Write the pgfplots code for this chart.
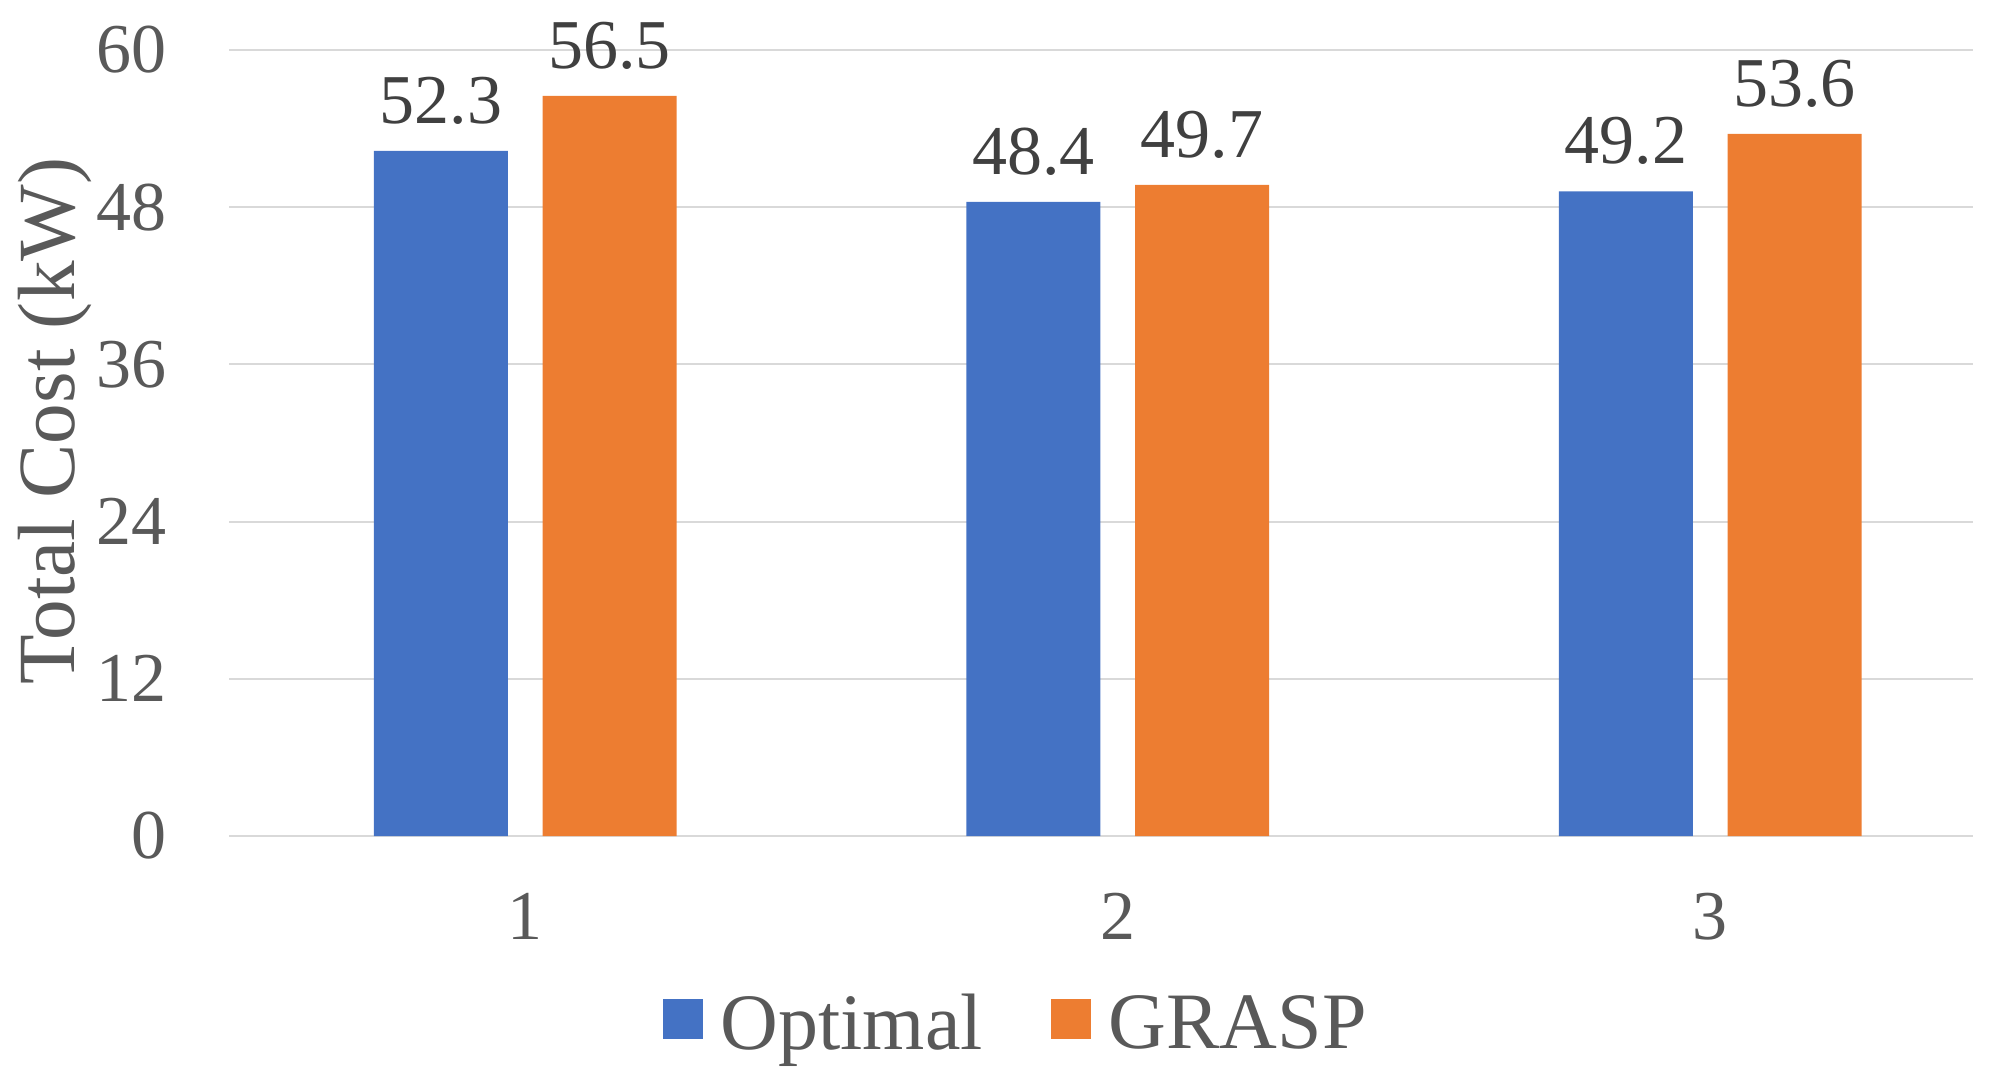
\documentclass[border=0pt]{standalone}
\usepackage{fontspec}
\setmainfont{Liberation Serif}
\usepackage{pgfplots}
\pgfplotsset{compat=1.18}
\definecolor{cBlue}{HTML}{4472C4}
\definecolor{cOrange}{HTML}{ED7D31}
\definecolor{cGrid}{HTML}{D9D9D9}
\definecolor{cTick}{HTML}{595959}
\definecolor{cLab}{HTML}{404040}
\begin{document}
\begin{tikzpicture}
\path[use as bounding box] (0,0) rectangle (498.75pt,271pt);
\begin{axis}[
  at={(57.25pt,62pt)}, anchor=south west,
  scale only axis, width=436pt, height=196.5pt,
  ybar, bar width=33.5pt,
  xmin=0.5, xmax=3.4435, ymin=0, ymax=60,
  xtick={1,2,3}, xticklabels={1,2,3},
  ytick={0,12,24,36,48,60},
  ymajorgrids, grid style={cGrid, line width=0.5pt},
  axis line style={draw=none}, tick style={draw=none},
  major tick length=0pt,
  /pgf/number format/assume math mode=true,
  ticklabel style={font=\fontsize{17.5}{21}\selectfont, text=cTick, inner sep=0pt},
  yticklabel style={anchor=east, xshift=-15.5pt},
  xticklabel style={anchor=north, yshift=-14pt},
  ylabel={Total Cost (kW)},
  ylabel style={at={(rel axis cs:-0.0883,0.528)}, anchor=base, inner sep=0pt,
    font=\fontsize{20.3}{24}\selectfont, text=cTick},
  nodes near coords={\pgfmathprintnumber[fixed,fixed zerofill,precision=1,assume math mode=true]{\pgfplotspointmeta}},
  nodes near coords style={font=\fontsize{17.5}{21}\selectfont, text=cLab,
    inner sep=0pt, anchor=south, yshift=6.5pt},
  legend columns=2,
  legend style={at={(rel axis cs:0.4505,-0.2405)}, anchor=center, draw=none, fill=none,
    inner sep=0pt, font=\fontsize{20}{24}\selectfont, text=cTick,
    nodes={inner sep=0pt},
    /tikz/every odd column/.style={column sep=4.5pt},
    /tikz/every even column/.style={column sep=17pt}},
  legend image code/.code={\fill[#1] (0pt,-3.5pt) rectangle (10pt,6.5pt);},
]
\addplot[fill=cBlue, draw=none, bar shift=-21.1pt] coordinates {(1,52.3) (2,48.4) (3,49.2)};
\addplot[fill=cOrange, draw=none, bar shift=21.1pt] coordinates {(1,56.5) (2,49.7) (3,53.6)};
\legend{Optimal, GRASP}
\end{axis}
\end{tikzpicture}
\end{document}
